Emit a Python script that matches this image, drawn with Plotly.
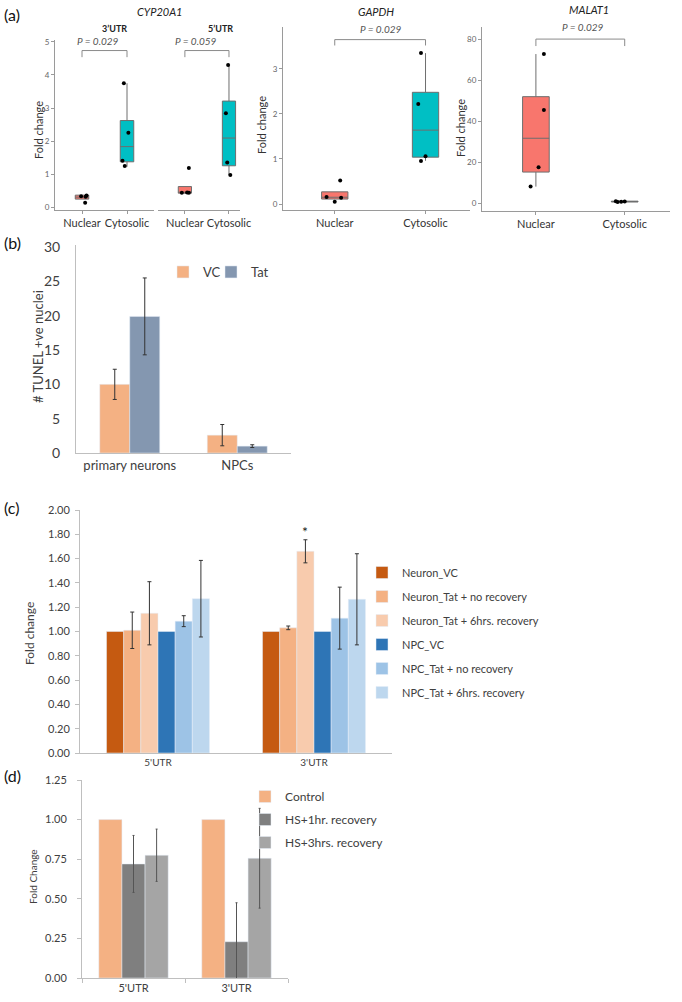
import plotly.graph_objects as go

W, H = 682, 1002

# ---------------- panel (a): box summaries + points
groups_a = ["Nuclear", "Cytosolic"]
box_colors = ["#F8766D", "#00BFC4"]

# CYP20A1 3'UTR
cyp3_q1 = [0.24, 1.37]
cyp3_med = [0.30, 1.83]
cyp3_q3 = [0.36, 2.62]
cyp3_lo = [0.24, 1.22]
cyp3_hi = [0.36, 3.75]
cyp3_pts = [[0.33, 0.13, 0.35, 0.31], [3.75, 2.25, 1.40, 1.24]]
cyp3_jit = [[-0.02, 0.07, 0.1, 0.08], [-0.07, 0.03, -0.1, -0.05]]

# CYP20A1 5'UTR
cyp5_q1 = [0.42, 1.25]
cyp5_med = [0.45, 2.09]
cyp5_q3 = [0.62, 3.21]
cyp5_lo = [0.42, 0.97]
cyp5_hi = [0.62, 4.30]
cyp5_pts = [[1.18, 0.43, 0.43, 0.44], [4.30, 2.84, 1.35, 0.97]]
cyp5_jit = [[0.09, -0.07, 0.09, 0.05], [-0.02, -0.07, -0.04, 0.03]]

# GAPDH
gapdh_q1 = [0.11, 1.04]
gapdh_med = [0.15, 1.64]
gapdh_q3 = [0.27, 2.48]
gapdh_lo = [0.11, 0.96]
gapdh_hi = [0.27, 3.35]
gapdh_pts = [[0.155, 0.05, 0.14, 0.52], [3.35, 2.22, 1.06, 0.955]]
gapdh_jit = [[-0.09, 0.0, 0.07, 0.06], [-0.05, -0.08, 0.0, -0.05]]

# MALAT1
malat_q1 = [15.1, 0.5]
malat_med = [31.6, 0.7]
malat_q3 = [51.9, 0.9]
malat_lo = [8.0, 0.3]
malat_hi = [72.7, 1.1]
malat_pts = [[72.7, 45.4, 17.4, 8.0], [0.9, 0.5, 0.6, 0.7]]
malat_jit = [[0.09, 0.09, 0.03, -0.06], [-0.1, -0.08, -0.04, 0.0]]

# ---------------- panel (b)
cats_b = ["primary neurons", "NPCs"]
vc_b = [10.0, 2.6]
vc_err_b = [2.2, 1.55]
tat_b = [19.9, 1.0]
tat_err_b = [5.6, 0.2]

# ---------------- panel (c)
cats_c = ["5'UTR", "3'UTR"]
names_c = ["Neuron_VC", "Neuron_Tat + no recovery", "Neuron_Tat + 6hrs. recovery",
           "NPC_VC", "NPC_Tat + no recovery", "NPC_Tat + 6hrs. recovery"]
vals_c = [[1.00, 1.00], [1.01, 1.03], [1.15, 1.66], [1.00, 1.00], [1.085, 1.11], [1.27, 1.265]]
errs_c = [[0, 0], [0.15, 0.015], [0.26, 0.095], [0, 0], [0.045, 0.255], [0.315, 0.375]]
colors_c = ["#C55A11", "#F4B183", "#F8CBAD", "#2E75B6", "#9DC3E6", "#BDD7EE"]

# ---------------- panel (d)
cats_d = ["5'UTR", "3'UTR"]
names_d = ["Control", "HS+1hr. recovery", "HS+3hrs. recovery"]
vals_d = [[1.00, 1.00], [0.72, 0.229], [0.775, 0.756]]
errs_d = [[0, 0], [0.18, 0.246], [0.165, 0.315]]
colors_d = ["#F4B183", "#7F7F7F", "#A5A5A5"]

FONT = "Lato, Open Sans, sans-serif"
fig = go.Figure()


def px_x(p):
    return p / W


def px_y(p):
    return 1 - p / H


def add_boxes(xa, ya, q1, med, q3, lo, hi, pts, jit, bw):
    for i in range(2):
        fig.add_trace(go.Box(
            x=[i], q1=[q1[i]], median=[med[i]], q3=[q3[i]],
            lowerfence=[lo[i]], upperfence=[hi[i]],
            fillcolor=box_colors[i], line=dict(color="#6e6e6e", width=1),
            whiskerwidth=0, width=bw, boxpoints=False,
            xaxis=xa, yaxis=ya, showlegend=False, hoverinfo="skip"))
        fig.add_trace(go.Scatter(
            x=[i + j for j in jit[i]], y=pts[i], mode="markers",
            marker=dict(color="black", size=4), xaxis=xa, yaxis=ya,
            showlegend=False))


add_boxes("x", "y", cyp3_q1, cyp3_med, cyp3_q3, cyp3_lo, cyp3_hi, cyp3_pts, cyp3_jit, 0.3)
add_boxes("x2", "y2", cyp5_q1, cyp5_med, cyp5_q3, cyp5_lo, cyp5_hi, cyp5_pts, cyp5_jit, 0.3)
add_boxes("x3", "y3", gapdh_q1, gapdh_med, gapdh_q3, gapdh_lo, gapdh_hi, gapdh_pts, gapdh_jit, 0.29)
add_boxes("x4", "y4", malat_q1, malat_med, malat_q3, malat_lo, malat_hi, malat_pts, malat_jit, 0.3)

# ---- panel (b)
wb = 0.279
for k, (nm, vals, errs, col) in enumerate([("VC", vc_b, vc_err_b, "#F4B183"),
                                           ("Tat", tat_b, tat_err_b, "#8497B0")]):
    fig.add_trace(go.Bar(
        x=cats_b, y=vals, name=nm, marker_color=col, width=wb, offset=-wb + k * wb,
        error_y=dict(type="data", array=errs, color="#333333", thickness=1, width=2),
        xaxis="x5", yaxis="y5", legend="legend"))
# blank legend slot so the tight legend row is not clipped
fig.add_trace(go.Bar(x=[cats_b[0]], y=[0], name="",
                     marker=dict(color="rgba(0,0,0,0)", line=dict(width=0)),
                     width=0.001, offset=0, xaxis="x5", yaxis="y5",
                     legend="legend", hoverinfo="skip"))

# ---- panel (c)
wc = 0.11
for k in range(6):
    fig.add_trace(go.Bar(
        x=cats_c, y=vals_c[k], name=names_c[k], marker_color=colors_c[k],
        width=wc, offset=-3 * wc + k * wc, legendgroup=names_c[k],
        error_y=dict(type="data", array=errs_c[k], color="#333333", thickness=1,
                     width=2, visible=k not in (0, 3)),
        xaxis="x6", yaxis="y6", legend="legend2"))

# ---- panel (d)
wd = 0.2245
for k in range(3):
    fig.add_trace(go.Bar(
        x=cats_d, y=vals_d[k], name=names_d[k], marker_color=colors_d[k],
        width=wd, offset=-1.5 * wd + k * wd, legendgroup=names_d[k],
        error_y=dict(type="data", array=errs_d[k], color="#555555", thickness=1,
                     width=1, visible=k != 0),
        xaxis="x7", yaxis="y7", legend="legend3"))

# ---------------- axes
ax_a = dict(showline=True, linecolor="#9a9a9a", ticks="outside", ticklen=3,
            tickcolor="#9a9a9a", showgrid=False, zeroline=False,
            tickfont=dict(size=11, color="#333333"))
ay_a = dict(showline=True, linecolor="#9a9a9a", ticks="outside", ticklen=3,
            tickcolor="#9a9a9a", showgrid=False, zeroline=False,
            tickfont=dict(size=8, color="#666666"))
top_a = px_y(210)

layout_axes = dict(
    xaxis=dict(ax_a, domain=[px_x(55), px_x(154)], range=[-0.6, 1.6],
               tickvals=[0, 1], ticktext=groups_a, anchor="y"),
    yaxis=dict(ay_a, domain=[top_a, px_y(40)], range=[-0.09, 5.06],
               tickvals=[0, 1, 2, 3, 4, 5], anchor="x"),
    xaxis2=dict(ax_a, domain=[px_x(158), px_x(240)], range=[-0.61, 1.25],
                tickvals=[0, 1], ticktext=groups_a, anchor="y2"),
    yaxis2=dict(domain=[top_a, px_y(40)], range=[-0.09, 5.06], showline=False,
                showticklabels=False, showgrid=False, zeroline=False, anchor="x2"),
    xaxis3=dict(ax_a, domain=[px_x(283), px_x(470)], range=[-0.57, 1.49],
                tickvals=[0, 1], ticktext=groups_a, anchor="y3"),
    yaxis3=dict(ay_a, domain=[top_a, px_y(27)], range=[-0.133, 3.93],
                tickvals=[0, 1, 2, 3], anchor="x3"),
    xaxis4=dict(ax_a, domain=[px_x(482), px_x(670)], range=[-0.607, 1.51],
                tickvals=[0, 1], ticktext=groups_a, anchor="y4"),
    yaxis4=dict(ay_a, domain=[px_y(211), px_y(27)], range=[-3.9, 85.9],
                tickvals=[0, 20, 40, 60, 80], anchor="x4"),
    xaxis5=dict(domain=[px_x(76), px_x(291)], anchor="y5", showline=True,
                linecolor="#bfbfbf", showgrid=False, type="category",
                tickfont=dict(size=13, color="#404040")),
    yaxis5=dict(domain=[px_y(453), px_y(245)], range=[0, 30.3], dtick=5, anchor="x5",
                showline=True, linecolor="#bfbfbf", showgrid=False, zeroline=False,
                ticklabelstandoff=12, tickfont=dict(size=14, color="#404040")),
    xaxis6=dict(domain=[px_x(80), px_x(392)], anchor="y6", showline=True,
                linecolor="#bfbfbf", showgrid=False, type="category",
                tickfont=dict(size=10, color="#404040")),
    yaxis6=dict(domain=[px_y(753), px_y(510)], range=[0, 2], dtick=0.2,
                tickformat=".2f", anchor="x6", showline=True, linecolor="#bfbfbf",
                ticks="outside", ticklen=4, tickcolor="#bfbfbf", showgrid=False,
                zeroline=False, ticklabelstandoff=3,
                tickfont=dict(size=11, color="#404040")),
    xaxis7=dict(domain=[px_x(82), px_x(288)], anchor="y7", showline=True,
                linecolor="#bfbfbf", showgrid=False, type="category",
                ticks="outside", tickson="boundaries", ticklen=4, tickcolor="#bfbfbf",
                tickfont=dict(size=11, color="#404040")),
    yaxis7=dict(domain=[px_y(978), px_y(780)], range=[0, 1.25], dtick=0.25,
                tickformat=".2f", anchor="x7", showline=True, linecolor="#bfbfbf",
                ticks="outside", ticklen=4, tickcolor="#bfbfbf", showgrid=False,
                zeroline=False, ticklabelstandoff=8,
                tickfont=dict(size=11, color="#404040")),
)
for key in layout_axes:
    layout_axes[key]["automargin"] = False

# ---------------- brackets for P values
shapes = []
for xr, yr, ytop, ybot in [("x", "y", 4.74, 4.54), ("x2", "y2", 4.74, 4.54),
                            ("x3", "y3", 3.65, 3.52), ("x4", "y4", 80.0, 76.6)]:
    shapes.append(dict(type="path", xref=xr, yref=yr,
                       path=f"M0,{ybot} L0,{ytop} L1,{ytop} L1,{ybot}",
                       line=dict(color="#8a8a8a", width=1)))


def ann(text, x, y, size, color="#222222", angle=0, xanchor="center"):
    return dict(text=text, x=px_x(x), y=px_y(y), xref="paper", yref="paper",
                showarrow=False, font=dict(size=size, color=color, family=FONT),
                textangle=angle, xanchor=xanchor, yanchor="middle")


annotations = [
    ann("(a)", 2, 15, 16, "#111111", xanchor="left"),
    ann("(b)", 2, 243, 16, "#111111", xanchor="left"),
    ann("(c)", 2, 507, 16, "#111111", xanchor="left"),
    ann("(d)", 2, 775, 16, "#111111", xanchor="left"),
    ann("<i>CYP20A1</i>", 159, 12, 11),
    ann("<b>3’UTR</b>", 115, 29, 9),
    ann("<b>5’UTR</b>", 220, 29, 9),
    ann("<i>P = 0.029</i>", 98, 41, 10, "#555555"),
    ann("<i>P = 0.059</i>", 196, 41, 10, "#555555"),
    ann("<i>GAPDH</i>", 376, 12, 11),
    ann("<i>P = 0.029</i>", 381, 29, 10, "#555555"),
    ann("<i>MALAT1</i>", 589, 9, 11),
    ann("<i>P = 0.029</i>", 583, 27, 10, "#555555"),
    ann("Fold change", 38, 130, 11, "#333333", -90),
    ann("Fold change", 262, 125, 11, "#333333", -90),
    ann("Fold change", 460, 128, 11, "#333333", -90),
    ann("# TUNEL +ve nuclei", 38, 347, 13, "#404040", -90),
    ann("Fold change", 29, 633, 12, "#404040", -90),
    ann("Fold Change", 33, 877, 10, "#404040", -90),
    dict(text="*", x=1 - 0.055, y=1.82, xref="x6", yref="y6", showarrow=False,
         font=dict(size=14, color="#222222"), yanchor="middle"),
]

fig.update_layout(
    width=W, height=H, margin=dict(l=0, r=0, t=0, b=0),
    paper_bgcolor="white", plot_bgcolor="white",
    font=dict(family=FONT, color="#404040"),
    shapes=shapes, annotations=annotations,
    legend=dict(x=px_x(163), y=px_y(257), xanchor="left", yanchor="top",
                orientation="h", font=dict(size=13), bgcolor="rgba(0,0,0,0)",
                entrywidth=3, entrywidthmode="pixels"),
    legend2=dict(x=px_x(362), y=px_y(558), xanchor="left", yanchor="top",
                 font=dict(size=11), bgcolor="rgba(0,0,0,0)",
                 traceorder="grouped", tracegroupgap=5),
    legend3=dict(x=px_x(245), y=px_y(782), xanchor="left", yanchor="top",
                 font=dict(size=12), bgcolor="rgba(0,0,0,0)",
                 traceorder="grouped", tracegroupgap=4),
    **layout_axes,
)

# page body has a default 8px margin; remove it so the figure sits at (0, 0)
fig.write_html("out.html", config={"displayModeBar": False},
               post_script="document.body.style.margin='0px';")
